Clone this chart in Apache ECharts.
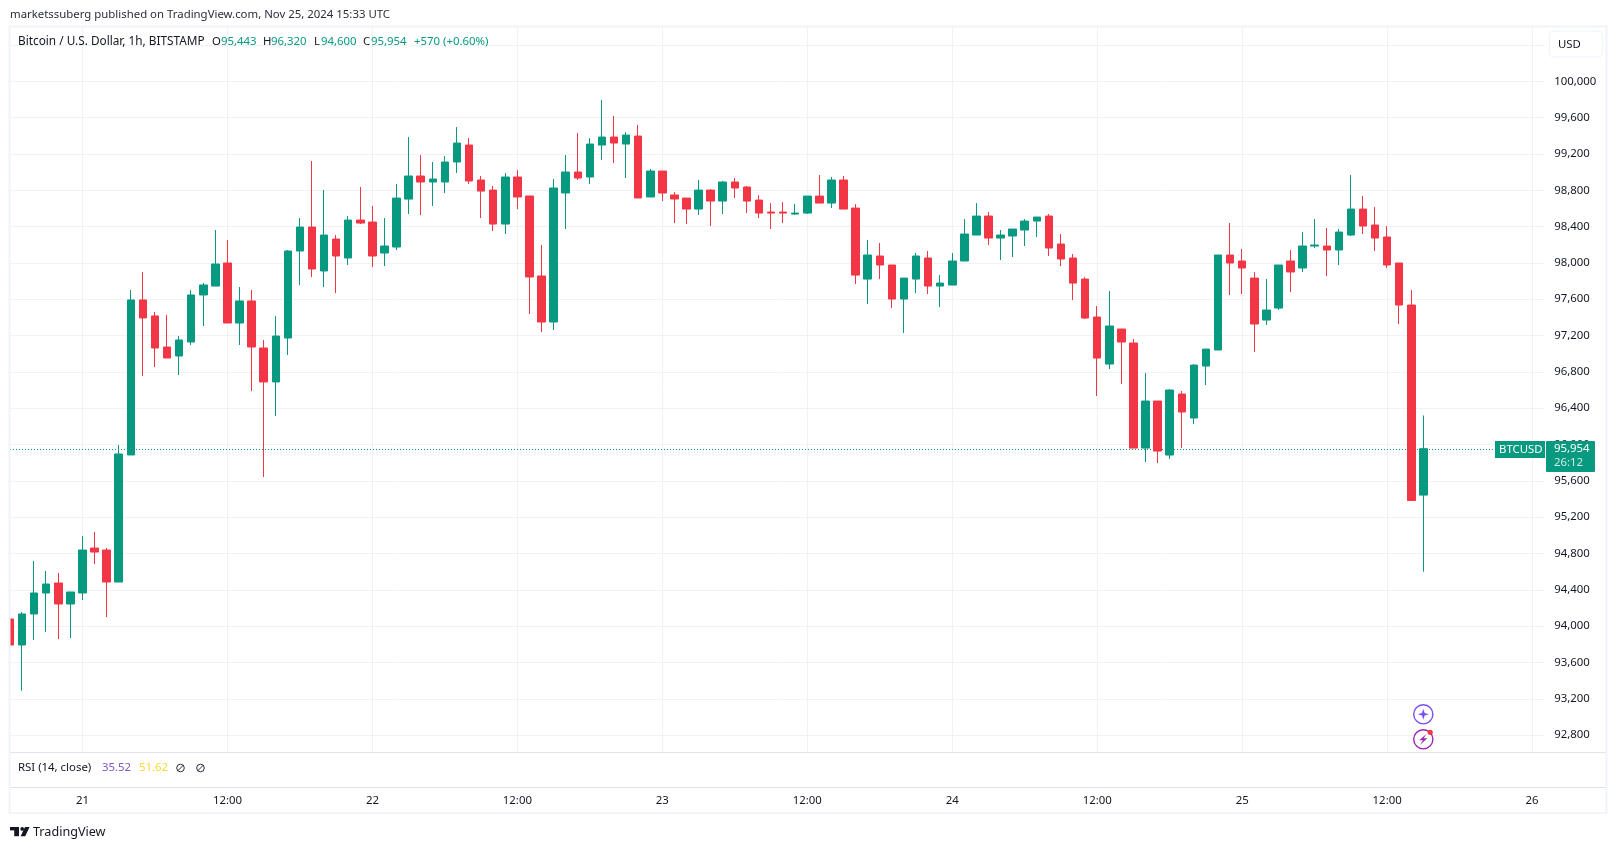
<!DOCTYPE html>
<html><head><meta charset="utf-8">
<style>html,body{margin:0;padding:0;background:#fff;overflow:hidden}#c{width:1617px;height:849px}</style>
<script src="https://cdn.jsdelivr.net/npm/echarts@6/dist/echarts.min.js"></script>
</head><body><div id="c"></div>
<script>
// Hourly candles, first bar 2024-11-20 18:00 UTC
const opens = [94079,93792,94134,94365,94475,94244,94365,94860,94838,94486,95885,97592,97416,97074,96975,97129,97647,97745,97999,97338,97581,97063,96689,97173,98131,98395,97911,98263,98054,98472,98450,98109,98175,98703,98957,98891,98891,99111,99298,98913,98802,98428,98946,98737,97856,97349,98770,99001,98946,99298,99386,99309,99397,98726,99012,98748,98714,98593,98802,98681,98891,98836,98692,98560,98560,98538,98549,98736,98659,98913,98604,97822,98076,97977,97602,97822,98054,97745,97756,98021,98307,98516,98274,98296,98362,98461,98516,98208,98054,97822,97404,96886,97272,97118,95961,96479,95884,96556,96292,96864,97041,98087,98021,97833,97371,97503,98021,97944,98186,98186,98142,98307,98593,98417,98285,97999,97536,95443];
const closes = [93792,94134,94365,94464,94244,94376,94838,94816,94486,95896,97592,97394,97063,96953,97151,97647,97757,97988,97338,97581,97074,96689,97195,98131,98395,97933,98307,98076,98472,98439,98076,98186,98714,98957,98891,98924,99111,99320,98902,98791,98428,98946,98726,97845,97349,98825,99001,98935,99309,99386,99320,99408,98715,99012,98770,98704,98593,98802,98681,98891,98825,98681,98549,98549,98549,98549,98736,98659,98913,98593,97866,98087,97977,97602,97833,98076,97745,97778,98021,98318,98516,98274,98307,98373,98461,98505,98164,98043,97778,97393,96952,97305,97129,95961,96479,95928,96600,96358,96875,97051,98087,97999,97944,97327,97481,97977,97900,98186,98197,98142,98340,98593,98406,98274,97977,97536,95384,95954];
const lows = [93780,93289,93847,93935,93858,93869,94288,94684,94100,94486,95885,96755,96854,96953,96766,97096,97305,97745,97338,97096,96590,95642,96314,96986,97756,97844,97734,97668,97977,98428,97955,97966,98142,98538,98527,98626,98769,98990,98869,98494,98351,98318,98593,97437,97239,97261,98373,98913,98869,99133,99100,98935,98715,98726,98682,98439,98428,98527,98406,98538,98714,98549,98494,98373,98439,98527,98538,98659,98604,98593,97767,97547,97822,97503,97228,97668,97657,97514,97756,98021,98307,98197,98032,98065,98186,98285,98076,97966,97591,97382,96534,96831,96666,95961,95807,95796,95840,95961,96226,96655,97041,97646,97657,97018,97316,97481,97679,97900,98164,97855,97977,98296,98318,98131,97944,97327,95384,94600];
const highs = [94120,94156,94717,94607,94585,94376,94993,95037,94860,95995,97702,97900,97460,97427,97195,97702,97779,98362,98252,97735,97702,97151,97415,98142,98494,99122,98803,98307,98516,98836,98626,98494,98869,99386,99188,99111,99177,99496,99375,98957,98847,98990,99023,98737,98197,98924,99188,99430,99375,99794,99618,99441,99519,99034,99012,98781,98714,98913,98813,98902,98935,98847,98747,98659,98670,98648,98736,98968,98946,98957,98648,98252,98219,97977,97833,98109,98131,97866,98109,98483,98659,98560,98362,98373,98483,98505,98538,98318,98098,97844,97525,97690,97272,97162,96787,96479,96611,96589,96886,97051,98087,98439,98153,97899,97822,97977,98142,98340,98483,98384,98373,98968,98736,98615,98406,97999,97701,96320];
const emptyHoursAfter = 10; // unfilled room to the right of the last bar
const priceTicks = [92800,93200,93600,94000,94400,94800,95200,95600,96000,96400,96800,97200,97600,98000,98400,98800,99200,99600,100000,100400];
const priceLabels = priceTicks.slice(0, -1);
const lastPrice = 95954;
const legendOHLC = ['95,443','96,320','94,600','95,954'];
const FONT = '"Noto Sans", sans-serif';
const FS = 11.4;
const GREEN = '#089981', RED = '#F23645', INK = '#131722';
const GRIDLINE = '#f0f2f5';

const categories = [];
for (let i = 0; i < opens.length + emptyHoursAfter; i++) {
  categories.push(new Date(Date.UTC(2024, 10, 20, 18 + i)).toISOString());
}
const candleData = opens.map((o, i) => [o, closes[i], lows[i], highs[i]]);
const hourOf = v => Number(v.slice(11, 13));
const isMajor = (i, v) => hourOf(v) % 12 === 0;
const fmtTime = v => hourOf(v) === 0 ? String(Number(v.slice(8, 10))) : '12:00';

const txt = (x, y, text, fill, extra) => ({
  type: 'text', x, y, z: 100, silent: true,
  style: Object.assign({ text, fill, font: FS + 'px ' + FONT, textVerticalAlign: 'middle', textAlign: 'left' }, extra || {})
});
const rect = (x, y, width, height, fill, r) => ({ type: 'rect', z: 90, silent: true, shape: { x, y, width, height, r: r || 0 }, style: { fill } });
const ring = (cx, cy, r, stroke, w) => ({ type: 'circle', z: 100, silent: true, shape: { cx, cy, r }, style: { fill: '#fff', stroke, lineWidth: w } });

const chart = echarts.init(document.getElementById('c'), null, { renderer: 'canvas', width: 1617, height: 849 });
chart.setOption({
  animation: false,
  backgroundColor: '#fff',
  grid: { left: 10, top: 27, width: 1534.2, height: 725, containLabel: false },
  xAxis: {
    type: 'category', data: categories, boundaryGap: false,
    axisLine: { show: false }, axisTick: { show: false },
    axisLabel: { interval: isMajor, formatter: fmtTime, color: INK, fontFamily: FONT, fontSize: FS, margin: 43, hideOverlap: false },
    splitLine: { show: true, interval: isMajor, lineStyle: { color: GRIDLINE, width: 1 } }
  },
  yAxis: {
    type: 'value', position: 'right', min: 92614, max: 100598, scale: true,
    axisLine: { show: false },
    axisTick: { show: false, customValues: priceTicks },
    axisLabel: {
      customValues: priceLabels, color: INK, fontFamily: FONT, fontSize: FS, margin: 10,
      align: 'left', formatter: v => v.toLocaleString('en-US')
    },
    splitLine: { show: true, lineStyle: { color: GRIDLINE, width: 1 } }
  },
  series: [{
    type: 'candlestick', data: candleData, clip: true, barWidth: 8,
    itemStyle: { color: GREEN, color0: RED, borderColor: GREEN, borderColor0: RED, borderWidth: 1 }
  }],
  graphic: { elements: [
    // bar cut by the left edge of the pane
    rect(0, 27, 10, 725, '#fff'),
    // frame and pane separators
    rect(10, 752, 1597, 1, '#e0e3eb'),
    rect(10, 787, 1597, 1, '#e0e3eb'),
    { type: 'rect', z: 95, silent: true, shape: { x: 9.5, y: 26.5, width: 1597, height: 786.5 }, style: { fill: 'none', stroke: '#f0f3fa', lineWidth: 2 } },
    // header
    txt(10, 14.5, 'marketssuberg published on TradingView.com, Nov 25, 2024 15:33 UTC', '#2a2e39'),
    txt(18, 41.5, 'Bitcoin / U.S. Dollar, 1h, BITSTAMP', INK, { font: '11.8px ' + FONT }),
    txt(212, 41.5, 'O', INK), txt(221, 41.5, legendOHLC[0], GREEN),
    txt(263, 41.5, 'H', INK), txt(271, 41.5, legendOHLC[1], GREEN),
    txt(314, 41.5, 'L', INK), txt(321, 41.5, legendOHLC[2], GREEN),
    txt(363, 41.5, 'C', INK), txt(371, 41.5, legendOHLC[3], GREEN),
    txt(414, 41.5, '+570 (+0.60%)', GREEN),
    // currency button
    { type: 'rect', z: 95, silent: true, shape: { x: 1549.5, y: 31, width: 53, height: 26, r: 4 }, style: { fill: '#fff', stroke: '#f0f3fa', lineWidth: 1 } },
    txt(1558, 44.5, 'USD', INK),
    // price tags
    rect(1495, 441, 50, 17, GREEN),
    txt(1499, 449.5, 'BTCUSD', '#fff'),
    rect(1546, 441, 49, 31, GREEN, 1),
    txt(1554, 449, '95,954', '#fff'),
    txt(1554, 463, '26:12', '#cdeae4'),
    // RSI pane legend
    txt(18, 768, 'RSI (14, close)', INK),
    txt(102, 768, '35.52', '#7e57c2'),
    txt(139, 768, '51.62', '#fdd835'),
    ring(180.5, 768, 3.8, '#2a2e39', 1),
    { type: 'line', z: 101, silent: true, shape: { x1: 177.5, y1: 771, x2: 183.5, y2: 765 }, style: { stroke: '#2a2e39', lineWidth: 1 } },
    ring(200.5, 768, 3.8, '#2a2e39', 1),
    { type: 'line', z: 101, silent: true, shape: { x1: 197.5, y1: 771, x2: 203.5, y2: 765 }, style: { stroke: '#2a2e39', lineWidth: 1 } },
    // bar-mark icons
    ring(1423.3, 714.3, 9.6, '#7c4dff', 1.4),
    { type: 'polygon', z: 101, silent: true, shape: { points: [[1423.3,708.8],[1424.6,713],[1428.8,714.3],[1424.6,715.6],[1423.3,719.8],[1422,715.6],[1417.8,714.3],[1422,713]] }, style: { fill: '#7c4dff' } },
    ring(1423.3, 739.3, 9.6, '#9c27b0', 1.4),
    { type: 'polygon', z: 101, silent: true, shape: { points: [[1426.6,733.8],[1419.3,740.3],[1423,740.3],[1420,745],[1427.3,738.3],[1423.6,738.3]] }, style: { fill: '#9c27b0' } },
    { type: 'circle', z: 102, silent: true, shape: { cx: 1430.2, cy: 732.3, r: 2.6 }, style: { fill: RED } },
    // brand
    rect(10, 827, 9, 3.4, INK),
    rect(14.2, 827, 4.8, 9.2, INK),
    { type: 'circle', z: 100, silent: true, shape: { cx: 22.2, cy: 828.9, r: 1.9 }, style: { fill: INK } },
    { type: 'polygon', z: 100, silent: true, shape: { points: [[25,827],[29.6,827],[25.2,836.2],[20.6,836.2]] }, style: { fill: INK } },
    txt(33, 832, 'TradingView', INK, { font: '12.6px ' + FONT })
  ] }
});
// Last-price guide sits under the candles, snapped to a pixel row of the price scale
const rowY = Math.round(chart.convertToPixel({ yAxisIndex: 0 }, lastPrice)) + 0.5;
chart.setOption({ series: [{ markLine: {
  z: 1, silent: true, symbol: 'none', animation: false, label: { show: false },
  lineStyle: { color: GREEN, type: [1, 2], width: 1 },
  data: [[{ x: 10, y: rowY }, { x: 1544, y: rowY }]]
} }] });
</script></body></html>
